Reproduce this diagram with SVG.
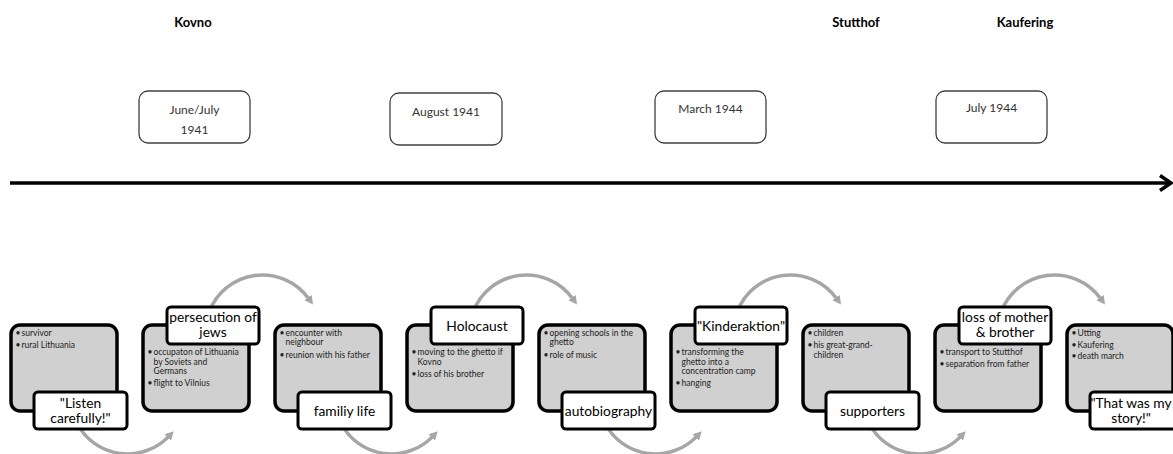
<svg xmlns="http://www.w3.org/2000/svg" width="1173" height="454" viewBox="0 0 1173 454">
<defs>
<style>
text{font-family:Lato,"Liberation Sans",sans-serif}
.place{font-size:13px;font-weight:bold;fill:#000;text-anchor:middle}
.dbox{fill:#fff;stroke:#404040;stroke-width:1.3}
.dt{font-size:12px;fill:#333;text-anchor:middle}
.card{fill:#d0d0d0;stroke:#000;stroke-width:3.5}
.lbl{fill:#fff;stroke:#000;stroke-width:3}
.lt{font-size:13.8px;fill:#000;text-anchor:middle}
.bt{font-size:8.5px;fill:#222}
.arc{fill:none;stroke:#a6a6a6;stroke-width:3.5;marker-end:url(#ah)}
.tl{stroke:#000;stroke-width:3.5;fill:none;marker-end:url(#tlh)}
</style>
<marker id="ah" markerUnits="userSpaceOnUse" markerWidth="10" markerHeight="10" viewBox="0 0 9 10" refX="1" refY="5" orient="auto">
<path d="M0,0.5 L8.5,5 L0,9.5 z" fill="#a6a6a6"/>
</marker>
<marker id="tlh" markerUnits="userSpaceOnUse" markerWidth="18" markerHeight="22" viewBox="-3 -3 18 22" refX="11" refY="7.5" orient="auto">
<path d="M0,0 L11,7.5 L0,15" fill="none" stroke="#000" stroke-width="3.5"/>
</marker>
</defs>

<g id="connectors">
<line class="tl" x1="10" y1="183" x2="1171" y2="183"/>
<path class="arc" d="M209.1,312 A57,57 0 0 1 308.6,298.5"/>
<path class="arc" d="M473.1,312 A57,57 0 0 1 572.6,298.5"/>
<path class="arc" d="M737.1,312 A57,57 0 0 1 836.6,298.5"/>
<path class="arc" d="M1001.1,312 A57,57 0 0 1 1100.6,298.5"/>
<path class="arc" d="M77.9,425 A57,57 0 0 0 168.5,436.6"/>
<path class="arc" d="M341.9,425 A57,57 0 0 0 432.5,436.6"/>
<path class="arc" d="M605.9,425 A57,57 0 0 0 696.5,436.6"/>
<path class="arc" d="M869.9,425 A57,57 0 0 0 960.5,436.6"/>
</g>

<g id="place-kovno"><text class="place" x="193" y="26.5">Kovno</text></g>
<g id="place-stutthof"><text class="place" x="856" y="26.5">Stutthof</text></g>
<g id="place-kaufering"><text class="place" x="1025" y="26.5">Kaufering</text></g>

<g id="date-1"><rect class="dbox" x="139" y="91" width="111" height="52" rx="9"/>
<text class="dt" x="194.5" y="114.3">June/July</text><text class="dt" x="194.5" y="134.3">1941</text></g>
<g id="date-2"><rect class="dbox" x="390" y="93" width="112" height="52" rx="9"/>
<text class="dt" x="446" y="116.3">August 1941</text></g>
<g id="date-3"><rect class="dbox" x="655" y="91" width="111" height="52" rx="9"/>
<text class="dt" x="710.5" y="113.3">March 1944</text></g>
<g id="date-4"><rect class="dbox" x="936" y="91" width="111" height="52" rx="9"/>
<text class="dt" x="991.5" y="112.3">July 1944</text></g>

<g id="card-1">
<rect class="card" x="11" y="325" width="106" height="86" rx="9"/>
<text class="bt"><tspan x="15.5" y="336">•</tspan><tspan x="21.5" y="336">survivor</tspan><tspan x="15.5" y="348">•</tspan><tspan x="21.5" y="348">rural Lithuania</tspan></text>
<rect class="lbl" x="34" y="392" width="93" height="37" rx="4"/>
<text class="lt"><tspan x="80.5" y="408">"Listen</tspan><tspan x="80.5" y="423">carefully!"</tspan></text>
</g>

<g id="card-2">
<rect class="card" x="143" y="325" width="106" height="86" rx="9"/>
<text class="bt"><tspan x="147.5" y="355">•</tspan><tspan x="153.5" y="355">occupaton of Lithuania</tspan><tspan x="153.5" y="364.5">by Soviets and</tspan><tspan x="153.5" y="374">Germans</tspan><tspan x="147.5" y="386">•</tspan><tspan x="153.5" y="386">flight to Vilnius</tspan></text>
<rect class="lbl" x="167" y="307" width="92" height="37" rx="4"/>
<text class="lt"><tspan x="213" y="322">persecution of</tspan><tspan x="213" y="337">jews</tspan></text>
</g>

<g id="card-3">
<rect class="card" x="275" y="325" width="106" height="86" rx="9"/>
<text class="bt"><tspan x="279.5" y="336">•</tspan><tspan x="285.5" y="336">encounter with</tspan><tspan x="285.5" y="345">neighbour</tspan><tspan x="279.5" y="358">•</tspan><tspan x="285.5" y="358">reunion with his father</tspan></text>
<rect class="lbl" x="298" y="392" width="93" height="37" rx="4"/>
<text class="lt" x="344.5" y="415.5">familiy life</text>
</g>

<g id="card-4">
<rect class="card" x="407" y="325" width="106" height="86" rx="9"/>
<text class="bt"><tspan x="411.5" y="355">•</tspan><tspan x="417.5" y="355">moving to the ghetto if</tspan><tspan x="417.5" y="364.5">Kovno</tspan><tspan x="411.5" y="377">•</tspan><tspan x="417.5" y="377">loss of his brother</tspan></text>
<rect class="lbl" x="431" y="307" width="92" height="37" rx="4"/>
<text class="lt" x="477" y="330.5">Holocaust</text>
</g>

<g id="card-5">
<rect class="card" x="539" y="325" width="106" height="86" rx="9"/>
<text class="bt"><tspan x="543.5" y="336">•</tspan><tspan x="549.5" y="336">opening schools in the</tspan><tspan x="549.5" y="345">ghetto</tspan><tspan x="543.5" y="358">•</tspan><tspan x="549.5" y="358">role of music</tspan></text>
<rect class="lbl" x="562" y="392" width="93" height="37" rx="4"/>
<text class="lt" x="608.5" y="415.5">autobiography</text>
</g>

<g id="card-6">
<rect class="card" x="671" y="325" width="106" height="86" rx="9"/>
<text class="bt"><tspan x="675.5" y="355">•</tspan><tspan x="681.5" y="355">transforming the</tspan><tspan x="681.5" y="364.5">ghetto into a</tspan><tspan x="681.5" y="374">concentration camp</tspan><tspan x="675.5" y="386">•</tspan><tspan x="681.5" y="386">hanging</tspan></text>
<rect class="lbl" x="695" y="307" width="92" height="37" rx="4"/>
<text class="lt" x="741" y="330.5">"Kinderaktion"</text>
</g>

<g id="card-7">
<rect class="card" x="803" y="325" width="106" height="86" rx="9"/>
<text class="bt"><tspan x="807.5" y="336">•</tspan><tspan x="813.5" y="336">children</tspan><tspan x="807.5" y="348">•</tspan><tspan x="813.5" y="348">his great-grand-</tspan><tspan x="813.5" y="357.5">children</tspan></text>
<rect class="lbl" x="826" y="392" width="93" height="37" rx="4"/>
<text class="lt" x="872.5" y="415.5">supporters</text>
</g>

<g id="card-8">
<rect class="card" x="935" y="325" width="106" height="86" rx="9"/>
<text class="bt"><tspan x="939.5" y="355">•</tspan><tspan x="945.5" y="355">transport to Stutthof</tspan><tspan x="939.5" y="366.5">•</tspan><tspan x="945.5" y="366.5">separation from father</tspan></text>
<rect class="lbl" x="959" y="307" width="92" height="37" rx="4"/>
<text class="lt"><tspan x="1005" y="322">loss of mother</tspan><tspan x="1005" y="337">&amp; brother</tspan></text>
</g>

<g id="card-9">
<rect class="card" x="1067" y="325" width="106" height="86" rx="9"/>
<text class="bt"><tspan x="1071.5" y="336">•</tspan><tspan x="1077.5" y="336">Utting</tspan><tspan x="1071.5" y="347.5">•</tspan><tspan x="1077.5" y="347.5">Kaufering</tspan><tspan x="1071.5" y="359">•</tspan><tspan x="1077.5" y="359">death march</tspan></text>
<rect class="lbl" x="1090" y="392" width="93" height="37" rx="4"/>
<text class="lt"><tspan x="1131" y="408">"That was my</tspan><tspan x="1131" y="423">story!"</tspan></text>
</g>
</svg>
